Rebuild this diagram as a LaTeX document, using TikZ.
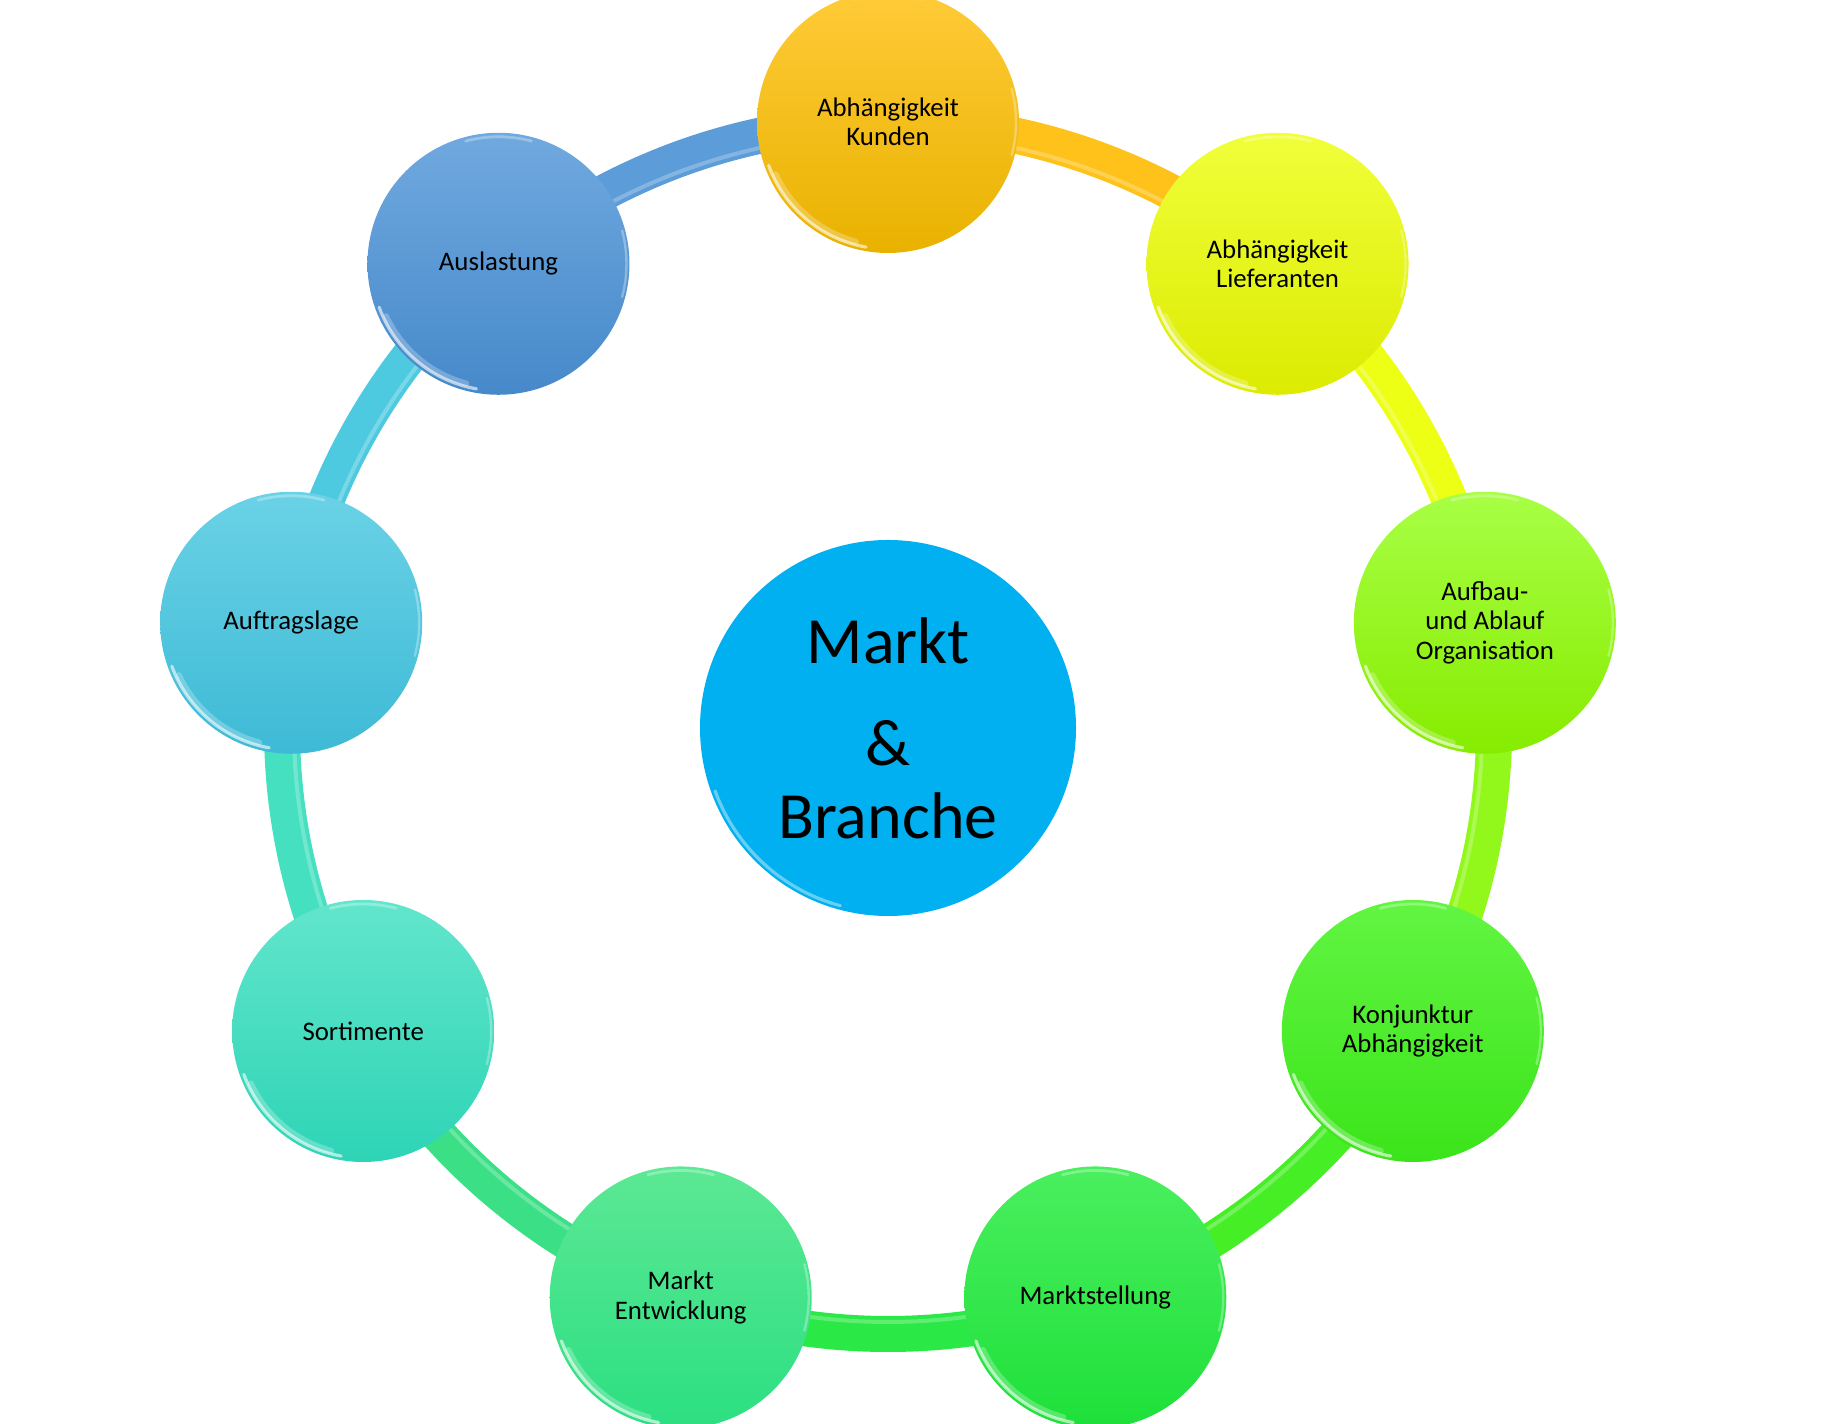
\documentclass[tikz,border=0pt]{standalone}
\usepackage{fontspec}
\setmainfont{Carlito}
\usetikzlibrary{calc}
\definecolor{kundenT}{HTML}{FFCB38}\definecolor{kundenB}{HTML}{E9B200}\definecolor{kundenR}{HTML}{FFC21A}
\definecolor{liefT}{HTML}{F0FF3A}\definecolor{liefB}{HTML}{DCEB00}\definecolor{liefR}{HTML}{ECFF14}
\definecolor{aufbT}{HTML}{A8FF45}\definecolor{aufbB}{HTML}{86EC00}\definecolor{aufbR}{HTML}{92F81C}
\definecolor{konjT}{HTML}{62F542}\definecolor{konjB}{HTML}{3BE41A}\definecolor{konjR}{HTML}{46EE26}
\definecolor{mstT}{HTML}{4AEF5E}\definecolor{mstB}{HTML}{1EE03A}\definecolor{mstR}{HTML}{2AE846}
\definecolor{mentT}{HTML}{5CE894}\definecolor{mentB}{HTML}{2CDF82}\definecolor{mentR}{HTML}{3ADF86}
\definecolor{sortT}{HTML}{62E6CC}\definecolor{sortB}{HTML}{2ED4B6}\definecolor{sortR}{HTML}{44E0C0}
\definecolor{auftT}{HTML}{6AD2E6}\definecolor{auftB}{HTML}{3EBAD6}\definecolor{auftR}{HTML}{4ECAE0}
\definecolor{auslT}{HTML}{70A9DF}\definecolor{auslB}{HTML}{4689CA}\definecolor{auslR}{HTML}{5C9CD8}
\definecolor{centerC}{HTML}{00B0F0}
\tikzset{
  sat/.style={circle, minimum size=131pt, inner sep=0pt, outer sep=0pt, align=center,
    font=\fontsize{13.4pt}{14.6pt}\selectfont, text=black},
  hub/.style={circle, minimum size=188pt, inner sep=0pt, outer sep=0pt, align=center,
    fill=centerC, font=\fontsize{33pt}{36.5pt}\selectfont, text=black},
  band/.style={line width=18pt},
  bandshine/.style={line width=2pt, white, opacity=0.25},
  rim/.style={line width=1.6pt, white, opacity=0.6, line cap=round}
}
\begin{document}
\begin{tikzpicture}[x=0.5pt,y=0.5pt]
\useasboundingbox (0,0) rectangle (1829,1423);
\coordinate (C) at (888,695);
% ring segments
\foreach \a/\c in {90/kundenR,50/liefR,10/aufbR,-30/konjR,-70/mstR,-110/mentR,-150/sortR,170/auftR,130/auslR}{
  \draw[band, \c] ($(C)+(\a:606)$) arc[start angle=\a, end angle=\a-40, radius=303pt];
  \draw[bandshine] ($(C)+(\a:594)$) arc[start angle=\a, end angle=\a-40, radius=297pt];
}
% center
\node[hub] (hub) at (C) {Markt\\[14.5pt]\&\\Branche};
\draw[rim, opacity=0.4] ($(hub.center)+(200:184)$) arc[start angle=200, end angle=255, radius=92pt];
% satellites
\foreach \a/\n/\k/\t in {
  90/kunden/kunden/{Abhängigkeit\\Kunden},
  50/lief/lief/{Abhängigkeit\\Lieferanten},
  10/aufb/aufb/{Aufbau-\\und Ablauf\\Organisation},
  -30/konj/konj/{Konjunktur\\Abhängigkeit},
  -70/mst/mst/{Marktstellung},
  -110/ment/ment/{Markt\\Entwicklung},
  -150/sort/sort/{Sortimente},
  170/auft/auft/{Auftragslage},
  130/ausl/ausl/{Auslastung}}{
  \node[sat, top color=\k T, bottom color=\k B] (\n) at ($(C)+(\a:606)$) {\t};
  \draw[rim, line width=3pt, opacity=0.25] ($(\n.center)+(205:124)$) arc[start angle=205, end angle=255, radius=62pt];
  \draw[rim] ($(\n.center)+(200:127)$) arc[start angle=200, end angle=260, radius=63.5pt];
  \draw[rim, opacity=0.3, line width=1.4pt] ($(\n.center)+(75:127)$) arc[start angle=75, end angle=105, radius=63.5pt];
  \draw[rim, opacity=0.3, line width=1.2pt] ($(\n.center)+(-15:128)$) arc[start angle=-15, end angle=15, radius=64pt];
}
\end{tikzpicture}
\end{document}
